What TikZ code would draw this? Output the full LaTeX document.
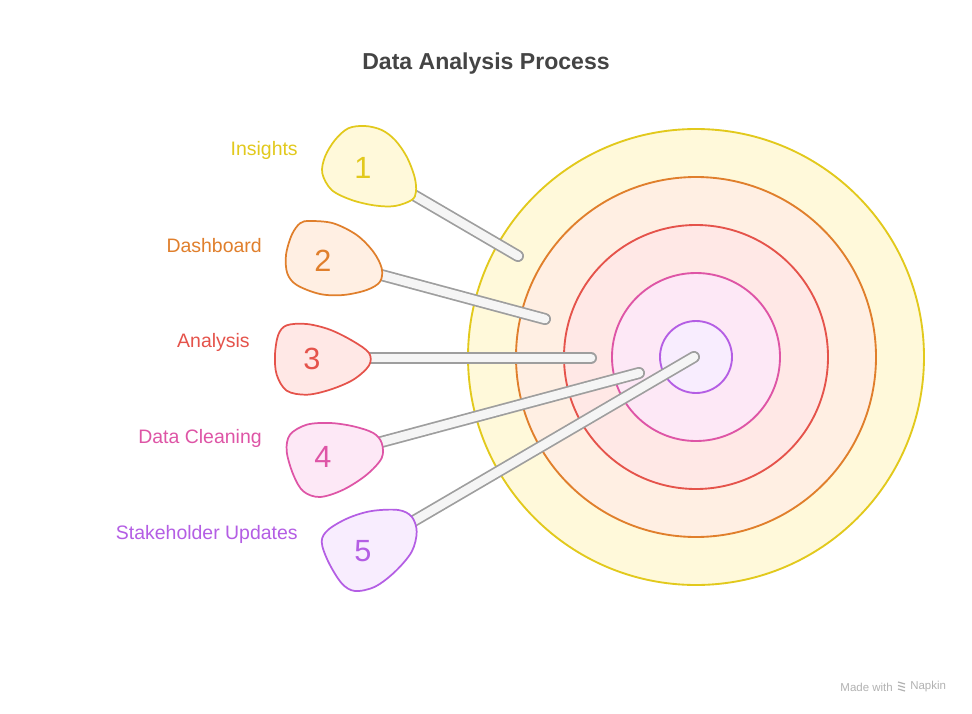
\documentclass[tikz,border=0pt]{standalone}
\usepackage{fontspec}
\setmainfont{Liberation Sans}
\begin{document}
\begin{tikzpicture}[x=0.75pt,y=-0.75pt,
  ring/.style={line width=1.4pt},
  blob/.style={line width=1.3pt},
  lbl/.style={anchor=east,inner sep=0pt,font=\fontsize{14.6}{17}\selectfont},
  num/.style={font=\fontsize{23}{27}\selectfont},
  stickout/.style={line width=9pt,line cap=round,draw=black!38},
  stickin/.style={line width=6.4pt,line cap=round,draw=black!4}]
\definecolor{yS}{HTML}{E2C91C}\definecolor{yF}{HTML}{FFF9DA}
\definecolor{oS}{HTML}{E07F2C}\definecolor{oF}{HTML}{FFEFE3}
\definecolor{rS}{HTML}{E5534B}\definecolor{rF}{HTML}{FFE8E6}
\definecolor{pS}{HTML}{DE55A6}\definecolor{pF}{HTML}{FDE8F6}
\definecolor{vS}{HTML}{B45EE4}\definecolor{vF}{HTML}{F8EDFE}
\definecolor{tS}{HTML}{444444}
\useasboundingbox (0,0) rectangle (972,714);
\fill[white] (0,0) rectangle (972,714);
\node[font=\bfseries\fontsize{17.3}{20}\selectfont,text=tS] (title) at (486,64) {Data Analysis Process};
% target
\coordinate (c) at (696,357);
\filldraw[ring,draw=yS,fill=yF] (c) circle[radius=228];
\filldraw[ring,draw=oS,fill=oF] (c) circle[radius=180];
\filldraw[ring,draw=rS,fill=rF] (c) circle[radius=132];
\filldraw[ring,draw=pS,fill=pF] (c) circle[radius=84];
\filldraw[ring,draw=vS,fill=vF] (c) circle[radius=36];
% sticks
\coordinate (s1) at (400,187); \coordinate (e1) at (518,256);
\coordinate (s2) at (370,272); \coordinate (e2) at (545,319);
\coordinate (s3) at (360,358); \coordinate (e3) at (591,358);
\coordinate (s4) at (370,445); \coordinate (e4) at (639,373);
\coordinate (s5) at (400,529); \coordinate (e5) at (694,357);
\foreach \i in {1,...,5}{
  \draw[stickout] (s\i) -- (e\i);
  \draw[stickin] (s\i) -- (e\i);
}
% blobs
\filldraw[blob,draw=yS,fill=yF] plot[smooth cycle,tension=0.55] coordinates
 {(365,126)(381.7,130)(395,140)(406.7,156.7)(414.5,176.7)(416,191.7)(411.7,200)(395,206)(375,205.5)(351.7,200)(331.7,190)(322.3,173.3)(325,156.7)(335,140)(348.3,128.3)};
\filldraw[blob,draw=oS,fill=oF] plot[smooth cycle,tension=0.55] coordinates
 {(310,221)(333.3,223.3)(356.7,235)(373.3,251.7)(381.7,268.3)(380,281.7)(366.7,290)(343.3,295)(320,294)(296.7,285)(287.3,273.3)(286,255)(291.7,235)(300,223.3)};
\filldraw[blob,draw=rS,fill=rF] plot[smooth cycle,tension=0.55] coordinates
 {(286.7,325.3)(306.7,324)(330,329.7)(353.3,341.3)(369,353)(369,365.5)(353.3,379.7)(330,389.7)(306.7,394.7)(286.7,390.7)(276.7,374.7)(275,354.7)(278.3,334.7)};
\filldraw[blob,draw=pS,fill=pF] plot[smooth cycle,tension=0.55] coordinates
 {(330,423)(353.3,426.3)(373.3,433)(381.7,443)(381.7,458)(366.7,474.7)(343.3,489.7)(320,497)(303.3,491.3)(293.3,474.7)(286.7,451.3)(290,434.7)(306.7,424.7)};
\filldraw[blob,draw=vS,fill=vF] plot[smooth cycle,tension=0.55] coordinates
 {(398.3,510)(411.7,516.7)(416.7,531.7)(411.7,551.7)(395,571.7)(375,586.7)(355,591)(341.7,583.3)(328.3,561.7)(321.7,541.7)(328.3,529.7)(348.3,518)(371.7,511)};
% numbers
\node[num,text=yS] (n1) at (363,168) {1};
\node[num,text=oS] (n2) at (323,261) {2};
\node[num,text=rS] (n3) at (312,359) {3};
\node[num,text=pS] (n4) at (323,457) {4};
\node[num,text=vS] (n5) at (363,551) {5};
% labels
\node[lbl,text=yS] (l1) at (298,150) {Insights};
\node[lbl,text=oS] (l2) at (262,246) {Dashboard};
\node[lbl,text=rS] (l3) at (250,342) {Analysis};
\node[lbl,text=pS] (l4) at (262,438) {Data Cleaning};
\node[lbl,text=vS] (l5) at (298,534) {Stakeholder Updates};
% watermark
\node[anchor=east,inner sep=0pt,font=\fontsize{8.6}{10}\selectfont,text=black!30] (mw) at (893,687) {Made with};
\node[anchor=west,inner sep=0pt,font=\fontsize{8.6}{10}\selectfont,text=black!30] (np) at (910,687) {Napkin};
\foreach \k in {0,1,2}{
  \draw[black!30,line width=0.9pt] (898,682+\k*3.5) -- ++(7,2);
}
\end{tikzpicture}
\end{document}
